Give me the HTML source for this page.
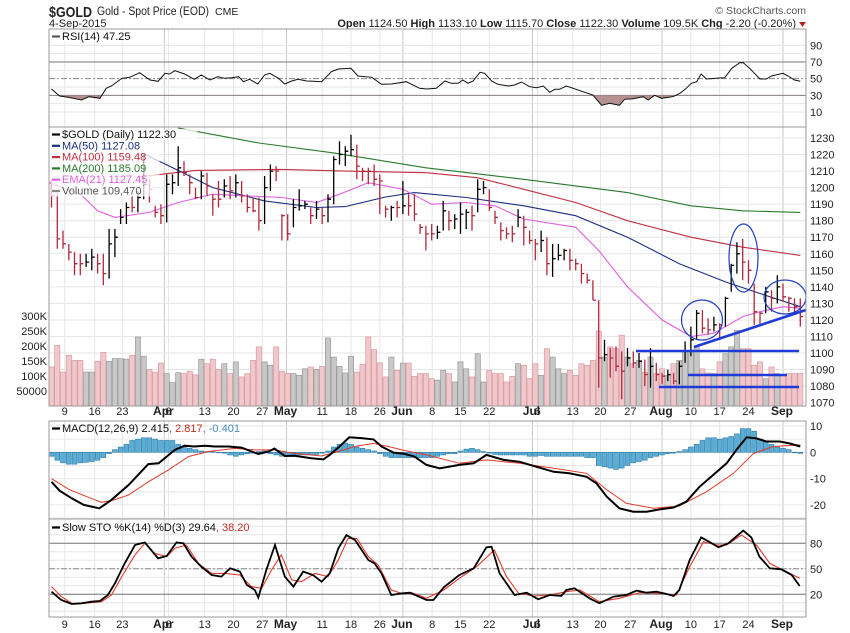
<!DOCTYPE html>
<html><head><meta charset="utf-8">
<style>
html,body{margin:0;padding:0;background:#fff;}
svg{display:block;font-family:"Liberation Sans",sans-serif;}
text{font-size:11px;fill:#222;}
</style></head>
<body>
<svg id="chart" width="850" height="633" viewBox="0 0 850 633" xmlns="http://www.w3.org/2000/svg">
<rect x="0" y="0" width="850" height="633" fill="#fff"/>
<g>
<text x="49" y="17" textLength="43" lengthAdjust="spacingAndGlyphs" style="font-size:15px;font-weight:bold">$GOLD</text>
<text x="97" y="15" textLength="112" lengthAdjust="spacingAndGlyphs" style="font-size:11.5px">Gold - Spot Price (EOD)</text>
<text x="215" y="15" style="font-size:10.5px">CME</text>
<text x="49" y="27" style="font-size:11px">4-Sep-2015</text>
<text x="806" y="14" text-anchor="end" style="font-size:10.5px;fill:#555">© StockCharts.com</text>
<text x="796" y="27" text-anchor="end" style="font-size:11px"><tspan font-weight="bold">Open</tspan> 1124.50 <tspan font-weight="bold">High</tspan> 1133.10 <tspan font-weight="bold">Low</tspan> 1115.70 <tspan font-weight="bold">Close</tspan> 1122.30 <tspan font-weight="bold">Volume</tspan> 109.5K <tspan font-weight="bold">Chg</tspan> -2.20 (-0.20%)</text>
<path d="M799,22 L806,22 L802.5,27 Z" fill="#b22"/>
</g>
<g id="grid"></g>
<g id="marks"></g>
<g id="labels"></g>
<defs>
<clipPath id="clipPrice"><rect x="49" y="127" width="757" height="279"/></clipPath>
<clipPath id="clipRsiLow"><rect x="49" y="95.3" width="757" height="31"/></clipPath>
</defs>
</svg>
<script>
// ---------- data ----------
const closes=[1195,1169,1166,1161,1154,1154,1155,1158,1154,1148,1166,1170,1182,1188,1188,1194,1202,1199,1185,1183,1202,1203,1212,1209,1203,1194,1207,1201,1193,1193,1201,1198,1203,1195,1188,1186,1180,1200,1210,1210,1183,1172,1188,1189,1190,1183,1187,1183,1193,1217,1220,1222,1223,1213,1210,1210,1205,1204,1187,1188,1188,1189,1189,1184,1176,1172,1172,1173,1186,1180,1181,1184,1185,1183,1199,1200,1188,1182,1174,1172,1172,1182,1176,1168,1166,1168,1154,1157,1159,1162,1156,1154,1148,1144,1132,1097,1099,1097,1092,1089,1097,1094,1095,1087,1092,1087,1086,1087,1083,1092,1101,1108,1124,1115,1114,1117,1117,1133,1153,1160,1155,1150,1125,1124,1137,1133,1140,1134,1133,1128,1122];
const highs=[1205,1197,1174,1166,1161,1160,1160,1163,1160,1160,1175,1175,1187,1191,1195,1198,1220,1205,1189,1190,1208,1208,1225,1216,1208,1200,1210,1209,1196,1204,1205,1207,1208,1204,1196,1194,1194,1207,1214,1213,1184,1184,1193,1199,1192,1188,1192,1188,1196,1219,1228,1225,1232,1226,1212,1212,1214,1208,1189,1189,1192,1204,1196,1196,1178,1177,1178,1177,1192,1186,1184,1191,1187,1189,1205,1204,1199,1186,1179,1176,1177,1187,1183,1174,1169,1174,1170,1166,1166,1163,1163,1157,1154,1148,1144,1132,1108,1103,1104,1101,1103,1101,1100,1096,1103,1094,1088,1090,1088,1095,1107,1116,1126,1126,1121,1122,1118,1134,1154,1167,1169,1156,1142,1125,1140,1138,1147,1142,1134,1133,1133];
const lows=[1188,1163,1163,1156,1147,1147,1152,1150,1148,1141,1145,1158,1178,1178,1185,1185,1193,1191,1182,1178,1179,1196,1201,1207,1196,1193,1193,1195,1183,1188,1194,1193,1194,1191,1185,1185,1174,1178,1198,1204,1168,1168,1176,1186,1187,1178,1181,1178,1179,1190,1214,1213,1219,1205,1204,1202,1201,1184,1182,1180,1182,1184,1183,1180,1172,1162,1168,1169,1174,1174,1175,1172,1175,1174,1185,1196,1186,1178,1168,1169,1167,1176,1165,1166,1156,1161,1147,1146,1156,1156,1150,1150,1142,1142,1132,1079,1095,1085,1089,1072,1092,1091,1091,1080,1079,1083,1081,1083,1081,1081,1094,1098,1108,1112,1111,1113,1108,1116,1137,1148,1144,1142,1117,1117,1124,1125,1130,1131,1125,1125,1116];
const volumesK=[130,202,113,169,152,152,113,113,149,179,149,158,158,156,169,230,166,122,113,143,108,78,111,108,116,104,156,141,156,122,141,108,147,97,108,152,197,147,136,197,116,108,108,102,124,130,122,132,227,163,132,110,166,113,139,230,188,144,97,163,119,143,143,99,108,108,91,86,119,108,80,147,124,97,174,80,119,108,108,80,99,141,136,91,141,102,191,163,124,108,119,102,141,136,152,250,163,197,191,236,163,141,152,113,163,108,124,102,141,152,180,185,197,124,110,108,147,174,197,252,191,191,136,147,91,130,108,102,108,108,109];
const macdHist=[-1.5,-3,-4,-4.5,-4.5,-4,-3.8,-3.5,-3,-2,-0.5,1,2,3,4.5,5,5.5,5.5,5,4.5,4.5,4.5,3,2,1.5,1,0.5,0.3,0.2,0,-0.3,-1,-1.5,-1,-0.5,-0.3,0.3,0.5,-0.5,-1,-1.5,-1.2,-1,-1,-1,-1,-0.8,-0.3,0.5,2,3,3.5,3,2,1.5,1,0.5,-0.5,-1.5,-2,-2,-2,-2,-2,-2,-2,-2,-1.5,-1,-0.5,-0.5,0.5,1.2,1.5,1,0.3,-0.3,-0.8,-1,-1,-1,-1,-1,-1.5,-1.5,-1.2,-1.5,-1.5,-1.5,-1.5,-1.5,-1.5,-1.5,-2,-2,-5,-5.5,-6,-6.5,-6,-5,-4,-3.5,-3,-2,-1.5,-1,-0.5,-0.3,0.3,1,2,3,4.5,5.5,5.5,5,5.5,6,7,9,9,8,5,4,3,2,1.5,1,0,-0.4];
// moving averages: day index / value
const ma200Days=[22,36,49,65,82,100,111,120,130];
const ma200Vals=[1236,1227,1221,1212,1205,1197,1189,1186,1185];
const ma100Days=[15,25,40,51,65,74,82,91,100,111,120,130];
const ma100Vals=[1206.5,1210.4,1211,1210,1209,1206,1199,1191,1180,1170,1164,1159];
const ma50Days=[16,22,28,37,46,51,58,63,72,82,91,100,109,117,123,130];
const ma50Vals=[1220.5,1210.4,1200,1192,1188,1188.5,1194.3,1197,1194,1189,1183,1170,1154,1143,1136,1128];
const ema21Days=[-2,5,8,11,17,22,28,34,40,46,50,55,61,66,72,77,82,91,95,100,106,111,115,120,123,127,130];
const ema21Vals=[1205,1196,1186,1182,1185,1191,1196,1195,1194,1191,1196,1203,1199,1190,1191,1189,1181,1176,1162,1140,1120,1110,1112,1122,1125,1128,1127];
// RSI
const rsiDays=[0,1.4,2.9,5.2,6.5,8.4,9.5,10.4,12.2,13.6,15.3,17.1,18.5,19.7,20.5,21.4,23.1,24.8,26,27.5,28.9,30,31.3,32.5,33.3,34.4,35.8,37,37.9,39.4,40.5,41.7,42.8,44.3,45.4,46.9,48.6,49.8,52,53.2,55.6,57.3,59,61.6,63.9,65.1,66.8,68.3,69.4,70.6,71.4,72.3,73.2,74.4,75.2,76.4,77.5,79.3,80.4,81.6,83,84.2,85.4,86.5,87.4,88.2,89.4,94,95.5,96.9,98.6,99.5,101,102.7,103.6,104.7,105.9,107.9,109.1,110,111.1,112,112.8,113.7,116,116.9,118.1,119.5,120.1,121.2,123,124.1,125,127,127.9,129,130];
const rsiVals=[37.6,29.2,27.6,24.4,28.4,26.4,38.4,41.2,50.4,51.6,57.2,48.4,46.8,56.4,55.6,59.6,55.6,49.2,54.4,48.4,52.4,50.4,51.2,52.4,46.4,49.2,43.6,54.4,56.4,50.4,43.6,47.2,49.2,47.2,46.8,46.4,58.4,61.6,62.4,53.2,51.6,43.2,43.6,46.4,38.4,37.6,38.4,47.2,44.4,44.4,48.4,44.4,47.2,57.6,56.4,47.2,43.2,41.2,42.4,46,40.4,39.2,41.2,33.6,37.2,37.2,41.2,30.4,18,20.4,18,25.2,26,28.4,24.4,30,26.4,28.4,32.4,37.2,44.4,46.4,55.6,49.6,50.8,51.2,62.4,69.2,69.2,62.4,49.6,49.6,53.2,56.4,53.2,48.4,46.8];
// MACD
const macdDays=[0,1.4,3.5,5.6,8.3,10.4,13.4,15.3,16.8,18.6,21.4,23.1,24.8,26.6,28.3,30.7,33,34.7,35.9,37.7,38.7,40.5,42.2,45.1,47.2,48.3,50,51.7,53.8,55.9,57.3,59.4,61.3,63,65.1,67.4,70.8,73.3,75.5,78.5,81.3,84.2,87.2,89.9,92.9,94.6,96.4,98.6,101,103.3,105.6,108,110.2,112.5,114.9,117.2,118.9,120.7,122.4,124.1,126.4,128.1,130];
const macdVals=[-11.2,-14.6,-17.5,-20,-21.3,-18.1,-12.4,-8,-4.5,-4.2,0.9,2.5,2.2,2.5,2.2,2.2,1.8,0.3,-0.6,0.3,1.4,-1.4,-1.3,-2.3,-2.7,-1,2.2,5.7,5.4,4.9,2.2,-0.1,-0.6,-1.6,-4.8,-6.1,-4.8,-4.2,-1,-2.9,-3.6,-5.5,-7.4,-8,-9.3,-11.8,-16.9,-21.3,-22.6,-22.6,-21.7,-21,-18.8,-13.1,-8.6,-4.2,0.9,5.7,5.3,4.1,4.1,3.4,2.2];
const signalDays=[0,2.9,6.4,8.7,10.9,13.4,16.8,20.3,23.8,27.3,31.8,35.2,38.7,42.2,46.9,49.8,52.6,55.9,58.5,60.8,65.1,70.8,75.5,81.3,87.2,92.9,96.4,99.8,104.5,109,113.7,118.4,121.9,125.3,130];
const signalVals=[-10,-14,-17.1,-19,-18.1,-16.2,-11.2,-6.7,-1.6,0.3,1.5,0.9,0.9,-0.4,-1.4,0.3,2.2,3.4,2.2,0.9,-1,-4.2,-2.9,-4.2,-6.1,-8,-14.3,-19.4,-21.3,-20.4,-15,-8,-0.4,2.2,2.8];
// Slow stochastics
const stoKDays=[0,1.7,3.5,5.2,6.9,8.4,9.8,11,12.7,14.5,16.2,18.5,20,21.7,22.9,24.3,26,27.8,29.5,31,32.7,33.9,35.3,35.9,37.3,38.8,40.5,42,43.7,45.4,46.9,48.3,49.8,51.2,52.7,55,56.1,57.3,59,60.8,62.2,65.1,66.3,68.1,70.8,73.3,75.5,76.4,77.8,80.4,82.5,84.5,86.5,88.5,89.4,90.8,93.4,95.1,97.6,99.8,101.6,103.3,105,106.8,108,109,110.8,112.8,114.2,115.8,117.5,120.1,121.5,122.9,124.7,126.7,128.5,129.9];
const stoKVals=[23.1,13.3,8.6,9.4,11.3,12.1,19.2,32.9,56.4,78,81.1,62.3,65.1,81.1,80,64.3,52.5,42.7,40.8,50.6,46.7,31,25.1,16.1,48.6,78,40.8,29,46.7,42.7,34.8,44.6,74,89.7,83.8,60.3,56.4,44.6,19.2,21.1,21.9,13.3,13.3,28.2,42.7,50.6,75.3,76,44.6,19.2,21.9,14.1,19.2,18,25.1,27,15.3,9.4,17.3,19.2,24.3,21.9,23.1,20.4,18,25.1,60.3,86.9,81.8,75.3,80,94.9,86.9,64.3,50.6,49.4,42.7,29.8];
const stoDDays=[0,1.7,3.5,5.8,8.7,10.4,12.2,14.5,16.2,17.9,20,21.4,23.4,25.5,27.8,30.1,32.7,34.7,36.5,38.2,39.9,41.7,43.4,45.7,48,49.8,51.5,53,55,56.7,59,60.8,62.5,65.1,68.1,70.8,73.8,76.9,79,81.1,83.7,86.5,89.4,91.7,95.1,98.6,102.1,105.6,108.5,110.8,113.2,115.5,117.2,119.8,122.4,124.7,126.7,129.9];
const stoDVals=[29,17.3,9.4,9.4,11.3,19.2,40.8,66.3,80,68.2,64.3,74,78,56.4,44.6,44.6,42.7,29,27,48.6,66.3,36.9,34.8,44.6,40.8,60.3,85.8,85.8,64.3,54.5,25.1,21.1,21.9,15.3,25.1,38.8,52.5,72.1,40.8,21.1,18,19.2,23.1,25.1,11.3,15.3,21.9,21.1,19.2,52.5,81.8,78,78,89.7,78,56.4,49.4,38.8];
// axis ticks
const weekTickDays=[2.3,7.5,12.3,20.3,26.6,31.6,36.6,47,52,57,66.1,71,76,84.4,90.5,95.3,100.5,111,116,121];
const weekTickLabels=['9','16','23','6','13','20','27','11','18','26','8','15','22','6','13','20','27','10','17','24'];
const monthTickDays=[19.6,40.8,61,83.5,106,127];
const monthTickLabels=['Apr','May','Jun','Jul','Aug','Sep'];
const rsiTicks=[90,70,50,30,10];
const priceTicks=[1230,1220,1210,1200,1190,1180,1170,1160,1150,1140,1130,1120,1110,1100,1090,1080,1070];
const volTicksK=[300,250,200,150,100,50];
const volTickLabels=['300K','250K','200K','150K','100K','50000'];
const macdTicks=[10,0,-10,-20];
const stoTicks=[80,50,20];

// ---------- scales ----------
const L=49,R=806;
const xDay=i=>51.5+5.76*i;
const yPrice=p=>138+(1230-p)*1.654;
const yVol=v=>406-v*0.3;
const yRsi=v=>62+(70-v)*0.833;
const yMacd=v=>452.3-v*2.63;
const ySto=v=>594.3-(v-20)*0.85;
const NS='http://www.w3.org/2000/svg';
const svg=document.getElementById('chart');
const G=document.getElementById('grid'),M=document.getElementById('marks'),T=document.getElementById('labels');
function mk(tag,attrs,parent){const e=document.createElementNS(NS,tag);for(const k in attrs)e.setAttribute(k,attrs[k]);parent.appendChild(e);return e;}
function txt(s,attrs,parent){const e=mk('text',attrs,parent);e.textContent=s;return e;}
function pts(days,vals,yf){return days.map((d,k)=>xDay(d).toFixed(1)+','+yf(vals[k]).toFixed(1)).join(' ');}

const panels=[{y0:29,y1:127,n:'rsi'},{y0:127,y1:406,n:'price'},{y0:421,y1:519,n:'macd'},{y0:519,y1:617,n:'sto'}];

// vertical grid
panels.forEach(p=>{
  weekTickDays.forEach(d=>{
    const l=mk('line',{x1:xDay(d),x2:xDay(d),y1:p.y0,y2:p.y1,stroke:'#e6e6e6','stroke-width':1},G);
    
    
  });
  monthTickDays.forEach(d=>{
    const l=mk('line',{x1:xDay(d),x2:xDay(d),y1:p.y0,y2:p.y1,stroke:'#c8c8c8','stroke-width':1},G);
    
    
  });
});
// horizontal grid
for(let v=10;v<=90;v+=10){
  const solid=(v===30||v===70),mid=v===50;
  const l=mk('line',{x1:L,x2:R,y1:yRsi(v),y2:yRsi(v),stroke:solid?'#777':mid?'#888':'#e6e6e6','stroke-width':1,'stroke-dasharray':mid?'6,2,2,2':'none'},G);
  
  
}
priceTicks.forEach(v=>{
  const l=mk('line',{x1:L,x2:R,y1:yPrice(v),y2:yPrice(v),stroke:'#e6e6e6','stroke-width':1},G);
  
  
});
for(let v=-25;v<=10;v+=5){
  const l=mk('line',{x1:L,x2:R,y1:yMacd(v),y2:yMacd(v),stroke:'#e6e6e6','stroke-width':1},G);
  
  
}
for(let v=0;v<=100;v+=10){
  const l=mk('line',{x1:L,x2:R,y1:ySto(v),y2:ySto(v),stroke:'#e6e6e6','stroke-width':1},G);
  
  
}
stoTicks.forEach(v=>{
  const mid=v===50;
  const l=mk('line',{x1:L,x2:R,y1:ySto(v),y2:ySto(v),stroke:mid?'#888':'#777','stroke-width':1,'stroke-dasharray':mid?'6,2,2,2':'none'},G);
  
  
});

// ---------- RSI ----------
const rsiFill=mk('polygon',{points:xDay(rsiDays[0])+','+yRsi(30)+' '+pts(rsiDays,rsiVals,yRsi)+' '+xDay(rsiDays[rsiDays.length-1])+','+yRsi(30),fill:'#b59090','clip-path':'url(#clipRsiLow)'},M);


const rsiLine=mk('polyline',{points:pts(rsiDays,rsiVals,yRsi),fill:'none',stroke:'#111','stroke-width':1},M);



// ---------- Volume ----------
volumesK.forEach((v,i)=>{
  const up=i>0&&closes[i]>closes[i-1];
  const r=mk('rect',{x:xDay(i)-2.6,y:yVol(v),width:5.2,height:406-yVol(v),fill:up?'#c8c8c8':'#f0c8cc',stroke:up?'#999':'#d89aa0','stroke-width':0.7},M);
  
  
});

// ---------- Price panel ----------
const pg=mk('g',{'clip-path':'url(#clipPrice)'},M);


[[ma200Days,ma200Vals,'#2a7a2a','ma200-line'],[ma100Days,ma100Vals,'#c03040','ma100-line'],[ma50Days,ma50Vals,'#1c2f80','ma50-line'],[ema21Days,ema21Vals,'#e060e0','ema21-line']].forEach(s=>{
  const pl=mk('polyline',{points:pts(s[0],s[1],yPrice),fill:'none',stroke:s[2],'stroke-width':1.1},pg);
  
  
});
closes.forEach((c,i)=>{
  const up=i>0&&c>closes[i-1];
  const col=up?'#000':'#b0283c';
  const x=xDay(i);
  const b=mk('path',{d:`M${x.toFixed(1)},${yPrice(highs[i]).toFixed(1)}V${yPrice(lows[i]).toFixed(1)}M${x.toFixed(1)},${yPrice(c).toFixed(1)}h3`,stroke:col,'stroke-width':1.3,fill:'none'},pg);
  
  
});

// annotations
[[702,320,20.5,20],[743.5,258,14.5,34],[785,297,21,17]].forEach(e=>{
  const el=mk('ellipse',{cx:e[0],cy:e[1],rx:e[2],ry:e[3],fill:'none',stroke:'#2040c0','stroke-width':1.2},M);
  
  
});
[[694,347,806,310,2.6],[636,351,799,351,2.6],[688,375,787,375,2.6],[659,387,799,387,2.6]].forEach(l=>{
  const el=mk('line',{x1:l[0],y1:l[1],x2:l[2],y2:l[3],stroke:'#1e3ad8','stroke-width':l[4]},M);
  
  
});

// ---------- MACD ----------
macdHist.forEach((v,i)=>{
  const y=yMacd(Math.max(v,0)),h=Math.abs(yMacd(v)-yMacd(0));
  const r=mk('rect',{x:xDay(i)-2.4,y:y,width:4.8,height:Math.max(h,0.5),fill:'#5aaed6',stroke:'#2a78a8','stroke-width':0.6},M);
  
  
});
const sigLine=mk('polyline',{points:pts(signalDays,signalVals,yMacd),fill:'none',stroke:'#e03a2a','stroke-width':1},M);


const macdLine=mk('polyline',{points:pts(macdDays,macdVals,yMacd),fill:'none',stroke:'#000','stroke-width':2},M);



// ---------- STO ----------
const dLine=mk('polyline',{points:pts(stoDDays,stoDVals,ySto),fill:'none',stroke:'#e03a2a','stroke-width':1.1},M);


const kLine=mk('polyline',{points:pts(stoKDays,stoKVals,ySto),fill:'none',stroke:'#000','stroke-width':1.8},M);



// ---------- frames ----------
panels.forEach(p=>{
  const r=mk('rect',{x:L,y:p.y0,width:R-L,height:p.y1-p.y0,fill:'none',stroke:'#9a9a9a','stroke-width':1},T);
  
  
});

// ---------- axis labels ----------
rsiTicks.forEach(v=>{
  const t=txt(String(v),{x:810,y:yRsi(v)+4},T);
  
  
});
priceTicks.forEach(v=>{
  const t=txt(String(v),{x:810,y:yPrice(v)+4},T);
  
  
});
volTicksK.forEach((v,k)=>{
  const t=txt(volTickLabels[k],{x:47,y:yVol(v)+4,'text-anchor':'end'},T);
  
  
});
macdTicks.forEach(v=>{
  const t=txt(String(v),{x:810,y:yMacd(v)+4},T);
  
  
});
stoTicks.forEach(v=>{
  const t=txt(String(v),{x:810,y:ySto(v)+4},T);
  
  
});
[415,628].forEach(yy=>{
  weekTickDays.forEach((d,k)=>{
    const t=txt(weekTickLabels[k],{x:xDay(d),y:yy,'text-anchor':'middle'},T);
    
    
  });
  monthTickDays.forEach((d,k)=>{
    const t=txt(monthTickLabels[k],{x:xDay(d)-1,y:yy,'text-anchor':'middle','font-weight':'bold',style:'font-size:12px'},T);
    
    
  });
});

// ---------- legends ----------
function legend(items,x,y0,dy,name){
  items.forEach((it,k)=>{
    const y=y0+k*dy;
    const bg=mk('rect',{x:x-1,y:y-9,width:it[0].length*6.3+14,height:11,fill:'#fff','fill-opacity':0.75},T);
    
    
    const sw=mk('line',{x1:x,x2:x+8,y1:y-3.5,y2:y-3.5,stroke:it[1],'stroke-width':2.2},T);
    
    
    const t=txt(it[0],{x:x+10,y:y,style:'font-size:11px;fill:'+it[2]},T);
    
    
  });
}
legend([['$GOLD (Daily) 1122.30','#000','#111'],['MA(50) 1127.08','#1c2f80','#1c2f80'],['MA(100) 1159.48','#c03040','#c03040'],['MA(200) 1185.09','#2a7a2a','#2a7a2a'],['EMA(21) 1127.45','#e060e0','#e060e0'],['Volume 109,470','#888','#555']],52,138,11.3,'price');
legend([['RSI(14) 47.25','#555','#111']],52,40,11,'rsi');
const ml=txt('',{x:62,y:432,style:'font-size:11px'},T);


ml.innerHTML='<tspan fill="#111">MACD(12,26,9) 2.415</tspan><tspan fill="#c03020">, 2.817</tspan><tspan fill="#4a8ac0">, -0.401</tspan>';
const mls=mk('line',{x1:52,x2:60,y1:428.5,y2:428.5,stroke:'#000','stroke-width':2.2},T);


const sl=txt('',{x:62,y:531,style:'font-size:11px'},T);


sl.innerHTML='<tspan fill="#111">Slow STO %K(14) %D(3) 29.64</tspan><tspan fill="#c03020">, 38.20</tspan>';
const sls=mk('line',{x1:52,x2:60,y1:527.5,y2:527.5,stroke:'#000','stroke-width':2.2},T);


</script>
</body></html>
